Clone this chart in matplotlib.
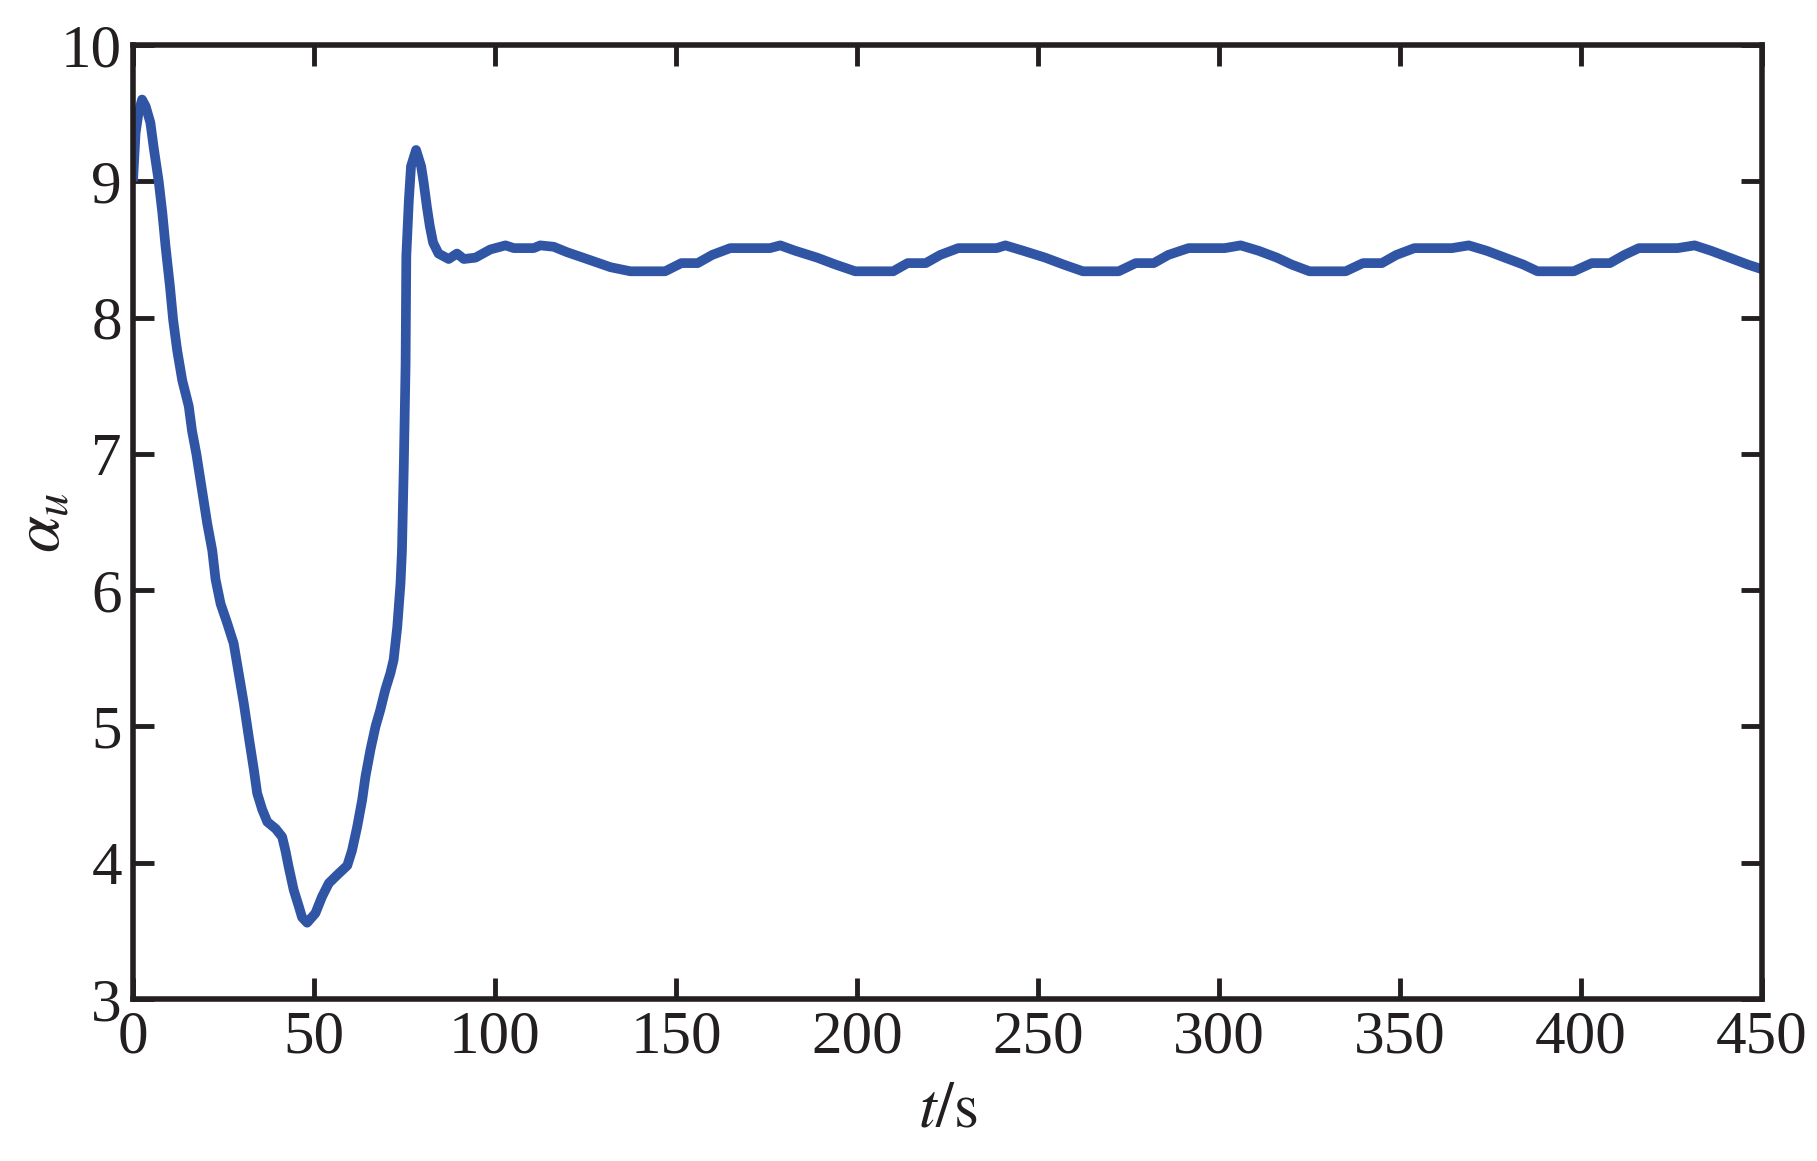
import numpy as np
import matplotlib
matplotlib.use("Agg")
import matplotlib.pyplot as plt

# start-up transient
t_start = [0, 0.7, 1.5, 2.5, 3.5, 4.8, 5.7, 7.1, 8.1, 9.0,
           10.2, 11.1, 12.2, 13.6, 15.4, 16.3, 17.5, 19.1, 20.5, 21.9,
           22.8, 24.2, 26.0, 27.8, 29.2, 30.6, 32.0, 33.4, 34.3, 35.7,
           37.1, 39.4, 41.2, 42.1, 43.0, 44.4, 45.8, 46.7, 48.1, 50.4,
           52.2, 54.1, 56.4, 59.2, 60.5, 61.9, 63.3, 64.2, 65.6, 67.0,
           68.3, 69.7, 71.1, 72.0, 72.5, 73.0, 73.9, 74.3, 74.8, 75.3]
v_start = [9.0, 9.35, 9.5, 9.6, 9.55, 9.43, 9.25, 9.0, 8.77, 8.52,
           8.23, 7.98, 7.76, 7.54, 7.35, 7.17, 7.0, 6.73, 6.49, 6.29,
           6.08, 5.9, 5.76, 5.61, 5.39, 5.17, 4.92, 4.68, 4.51, 4.39,
           4.30, 4.25, 4.19, 4.09, 3.97, 3.80, 3.68, 3.60, 3.56, 3.63,
           3.75, 3.85, 3.91, 3.98, 4.09, 4.26, 4.46, 4.63, 4.83, 5.0,
           5.12, 5.27, 5.39, 5.49, 5.61, 5.73, 6.05, 6.29, 6.9, 7.65]

# second peak and settling
t_settle = [75.5, 76.2, 76.8, 78.2, 79.6, 80.3, 81.2, 82.0, 82.9, 84.4,
            87.2, 89.5, 91.4, 94.6, 98.7, 102.9, 105.2, 110.7, 112.5, 116.2,
            119.9, 125.4, 131.9, 137.4]
v_settle = [8.45, 8.86, 9.11, 9.23, 9.11, 8.99, 8.81, 8.67, 8.55, 8.47,
            8.43, 8.47, 8.43, 8.44, 8.50, 8.53, 8.51, 8.51, 8.53, 8.52,
            8.48, 8.43, 8.37, 8.34]

# steady oscillation
t_steady = [147, 151.5, 156, 160, 165, 176, 178.8, 183, 189, 194,
            199.5, 210, 214, 219, 223, 228, 238.6, 241, 246, 252,
            257, 262.4, 272.3, 277, 282, 286, 291.6, 301.6, 306, 311,
            316, 320, 325, 335, 339.8, 345, 349, 354, 364.4, 369,
            374, 379, 384, 388, 398, 403, 408, 412, 416, 426.7,
            431.4, 436, 441, 446, 450]
v_steady = [8.34, 8.40, 8.40, 8.46, 8.51, 8.51, 8.53, 8.49, 8.44, 8.39,
            8.34, 8.34, 8.40, 8.40, 8.46, 8.51, 8.51, 8.53, 8.49, 8.44,
            8.39, 8.34, 8.34, 8.40, 8.40, 8.46, 8.51, 8.51, 8.53, 8.49,
            8.44, 8.39, 8.34, 8.34, 8.40, 8.40, 8.46, 8.51, 8.51, 8.53,
            8.49, 8.44, 8.39, 8.34, 8.34, 8.40, 8.40, 8.46, 8.51, 8.51,
            8.53, 8.49, 8.44, 8.39, 8.355]

x_ticks = [0, 50, 100, 150, 200, 250, 300, 350, 400, 450]
y_ticks = [3, 4, 5, 6, 7, 8, 9, 10]

t = np.array(t_start + t_settle + t_steady)
v = np.array(v_start + v_settle + v_steady)

ink = "#231f20"
plt.rcParams["font.family"] = "serif"
plt.rcParams["font.serif"] = ["Liberation Serif", "DejaVu Serif"]
plt.rcParams["mathtext.fontset"] = "stix"

fig = plt.figure(figsize=(18.17, 11.61), dpi=100)
ax = fig.add_axes([0.0732, 0.1395, 0.8965, 0.8217])

ax.plot(t, v, color="#3155a5", linewidth=7, solid_joinstyle="round",
        solid_capstyle="butt")

ax.set_xlim(0, 450)
ax.set_ylim(3, 10)
ax.set_xticks(x_ticks)
ax.set_yticks(y_ticks)

for side in ax.spines.values():
    side.set_linewidth(4)
    side.set_color(ink)

ax.tick_params(direction="in", length=15, width=3.5, color=ink,
               labelcolor=ink, labelsize=44, top=True, right=True, pad=8)

ax.set_xlabel(r"$t/\mathrm{s}$", fontsize=46, color=ink, va="center")
ax.xaxis.set_label_coords(0.5, -0.118)
ax.set_ylabel(r"$\alpha_u$", fontsize=48, color=ink, va="center")
ax.yaxis.set_label_coords(-0.055, 0.5)

fig.savefig("out.png", dpi=100, facecolor="white")
